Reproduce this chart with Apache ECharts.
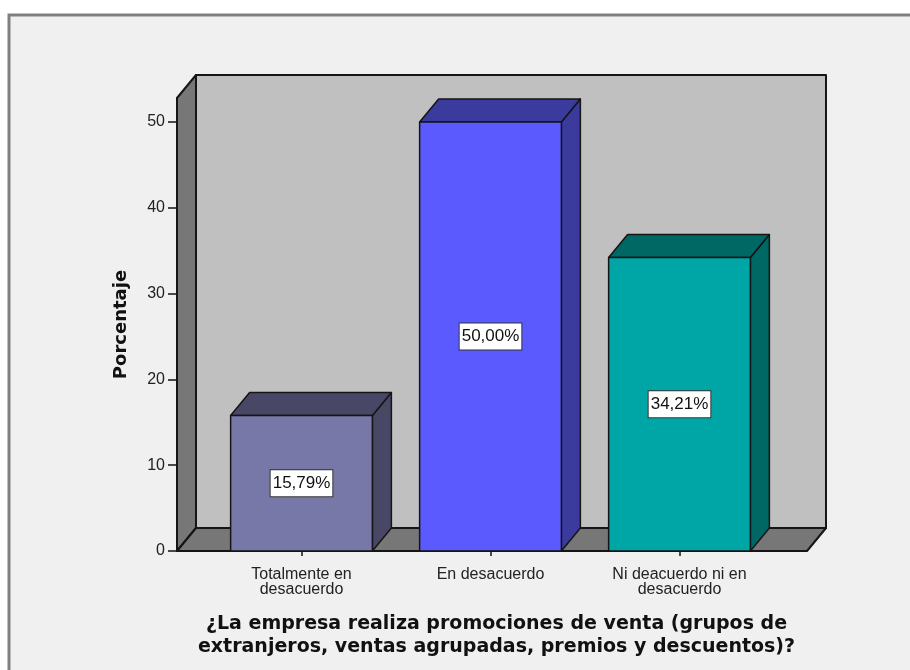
<!DOCTYPE html>
<html>
<head>
<meta charset="utf-8">
<script src="https://cdn.jsdelivr.net/npm/echarts@6/dist/echarts.min.js"></script>
<style>
  html, body { margin: 0; padding: 0; background: #ffffff; }
  #chart { width: 910px; height: 670px; }
</style>
</head>
<body>
<div id="chart"></div>
<script>
// Response categories and their percentages
const categories = ['Totalmente en\ndesacuerdo', 'En desacuerdo', 'Ni deacuerdo ni en\ndesacuerdo'];
const percentages = [15.79, 50.00, 34.21];
const yTicks = [0, 10, 20, 30, 40, 50];

// Face colours for each bar: front, then top/side shading
const frontColors = ['#7777a8', '#5a5aff', '#00a6a6'];
const shadeColors = ['#484866', '#3b3b9e', '#006864'];

const Y_MAX = 52.8;          // top of the walls, in axis units
const DEPTH_X = 19;          // 3D depth offset
const DEPTH_Y = 23;
const BAR_RATIO = 0.75;      // bar width as a share of the category band
const PAD_LEFT = 30;         // floor extends beyond the outer bands
const PAD_RIGHT = 33;
const EDGE = '#151515';
const SANS = '"Liberation Sans", Arial, sans-serif';
const BOLD = '"DejaVu Sans", Verdana, sans-serif';

const fmt = v => v.toFixed(2).replace('.', ',') + '%';

function renderWalls(params, api) {
  const cs = params.coordSys;
  const xl = cs.x - PAD_LEFT, xr = cs.x + cs.width + PAD_RIGHT;
  const yt = cs.y, yb = cs.y + cs.height;
  const lw = 2;
  return {
    type: 'group',
    children: [
      { // back wall
        type: 'polygon',
        shape: { points: [[xl + DEPTH_X, yt - DEPTH_Y], [xr + DEPTH_X, yt - DEPTH_Y], [xr + DEPTH_X, yb - DEPTH_Y], [xl + DEPTH_X, yb - DEPTH_Y]] },
        style: { fill: '#c0c0c0', stroke: EDGE, lineWidth: lw, lineJoin: 'round' }
      },
      { // left side wall
        type: 'polygon',
        shape: { points: [[xl, yb], [xl + DEPTH_X, yb - DEPTH_Y], [xl + DEPTH_X, yt - DEPTH_Y], [xl, yt]] },
        style: { fill: '#777777', stroke: EDGE, lineWidth: lw, lineJoin: 'round' }
      },
      { // floor
        type: 'polygon',
        shape: { points: [[xl, yb], [xr, yb], [xr + DEPTH_X, yb - DEPTH_Y], [xl + DEPTH_X, yb - DEPTH_Y]] },
        style: { fill: '#777777', stroke: EDGE, lineWidth: lw, lineJoin: 'round' }
      }
    ]
  };
}

function renderBar(params, api) {
  const i = api.value(0);
  const v = api.value(1);
  const top = api.coord([i, v]);
  const base = api.coord([i, 0]);
  const mid = api.coord([i, v / 2]);
  const w = api.size([1, 0])[0] * BAR_RATIO;
  const x0 = top[0] - w / 2, x1 = top[0] + w / 2;
  const yT = top[1], yB = base[1];
  const edge = { stroke: EDGE, lineWidth: 1.5, lineJoin: 'round' };
  return {
    type: 'group',
    children: [
      { // right side face
        type: 'polygon',
        shape: { points: [[x1, yT], [x1 + DEPTH_X, yT - DEPTH_Y], [x1 + DEPTH_X, yB - DEPTH_Y], [x1, yB]] },
        style: Object.assign({ fill: shadeColors[i] }, edge)
      },
      { // top face
        type: 'polygon',
        shape: { points: [[x0, yT], [x1, yT], [x1 + DEPTH_X, yT - DEPTH_Y], [x0 + DEPTH_X, yT - DEPTH_Y]] },
        style: Object.assign({ fill: shadeColors[i] }, edge)
      },
      { // front face
        type: 'rect',
        shape: { x: x0, y: yT, width: w, height: yB - yT },
        style: Object.assign({ fill: frontColors[i] }, edge)
      },
      { // value label
        type: 'text',
        x: mid[0], y: mid[1],
        style: {
          text: fmt(v),
          align: 'center', verticalAlign: 'middle',
          font: '17px ' + SANS,
          fill: '#111111',
          backgroundColor: '#ffffff',
          borderColor: '#333333', borderWidth: 1,
          padding: [5, 2, 4, 2]
        }
      }
    ]
  };
}

const chart = echarts.init(document.getElementById('chart'));
chart.setOption({
  backgroundColor: '#ffffff',
  animation: false,
  graphic: [{
    type: 'rect', z: -10, silent: true,
    shape: { x: 9, y: 15, width: 920, height: 680 },
    style: { fill: '#f0f0f0', stroke: '#808080', lineWidth: 3 }
  }],
  grid: { left: 207, right: 136, top: 98, bottom: 119 },
  xAxis: {
    type: 'category',
    data: categories,
    axisLine: { show: false },
    axisTick: { show: true, alignWithLabel: true, length: 5, lineStyle: { color: '#111', width: 1.5 } },
    axisLabel: {
      margin: 16, color: '#222', fontSize: 16, lineHeight: 15,
      fontFamily: SANS
    },
    name: '¿La empresa realiza promociones de venta (grupos de\nextranjeros, ventas agrupadas, premios y descuentos)?',
    nameLocation: 'middle',
    nameGap: 62,
    nameTextStyle: {
      fontSize: 19, fontWeight: 'bold', color: '#111', lineHeight: 23,
      fontFamily: BOLD, padding: [0, 0, 0, 12]
    }
  },
  yAxis: {
    type: 'value',
    min: 0, max: Y_MAX,
    offset: PAD_LEFT,
    splitLine: { show: false },
    axisLine: { show: true, lineStyle: { color: '#111', width: 2 } },
    axisTick: { show: true, length: 9, customValues: yTicks, lineStyle: { color: '#111', width: 1.5 } },
    axisLabel: {
      customValues: yTicks, margin: 12, color: '#222', fontSize: 16,
      fontFamily: SANS
    },
    name: 'Porcentaje',
    nameLocation: 'middle',
    nameGap: 47,
    nameTextStyle: {
      fontSize: 18, fontWeight: 'bold', color: '#111',
      fontFamily: BOLD
    }
  },
  series: [
    {
      type: 'custom', silent: true, z: 1,
      renderItem: renderWalls,
      data: [[0, 0]]
    },
    {
      type: 'custom', silent: true, z: 2,
      renderItem: renderBar,
      data: percentages.map((v, i) => [i, v])
    }
  ]
});
</script>
</body>
</html>
